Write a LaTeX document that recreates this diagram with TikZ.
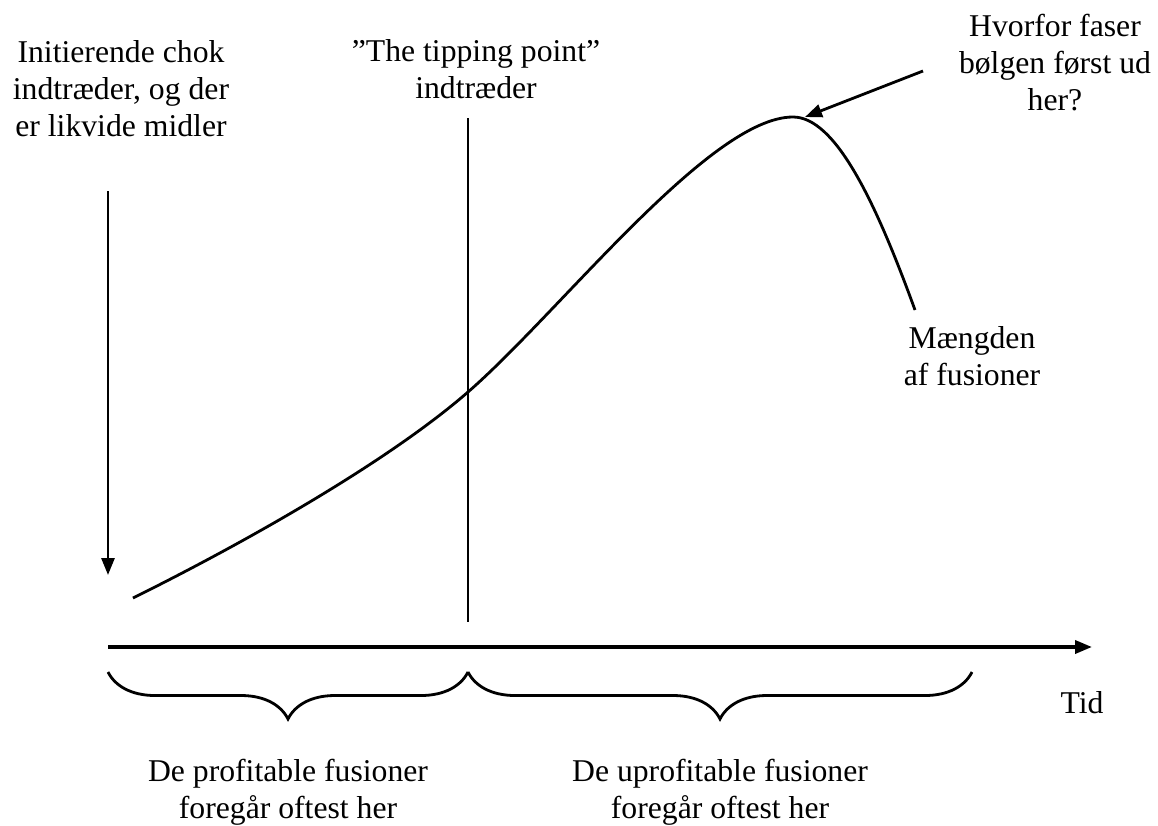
\documentclass[tikz,border=0pt]{standalone}
\usepackage{fontspec}
\setmainfont{Liberation Serif}
\usetikzlibrary{arrows.meta}
\usetikzlibrary{decorations.pathreplacing}

\begin{document}
\begin{tikzpicture}[x=1pt, y=-1pt, line width=2.8pt,
    lbl/.style={align=center, inner sep=0pt, anchor=base, font=\fontsize{31.7}{37}\selectfont},
    tip/.style={-{Triangle[length=17pt, width=13pt]}},
    clamp/.style={decorate, decoration={brace, mirror, amplitude=47pt}}]
    \useasboundingbox (0, 0) rectangle (1158, 825);
    % labels (anchor on last baseline)
    \node [lbl] (0) at (121, 136) {Initierende chok\\indtræder, og der\\er likvide midler};
    \node [lbl] (1) at (476, 98) {”The tipping point”\\indtræder};
    \node [lbl] (2) at (1055, 110) {Hvorfor faser\\bølgen først ud\\her?};
    \node [lbl] (3) at (972, 385) {Mængden\\af fusioner};
    \node [lbl] (4) at (1082, 713) {Tid};
    \node [lbl] (5) at (288, 818) {De profitable fusioner\\foregår oftest her};
    \node [lbl] (6) at (720, 818) {De uprofitable fusioner\\foregår oftest her};
    % initial shock
    \coordinate (7) at (108, 191);
    \coordinate (8) at (108, 575);
    \draw [tip] (7) to (8);
    % tipping point
    \coordinate (9) at (468, 118);
    \coordinate (10) at (468, 622);
    \draw (9) to (10);
    % time axis
    \coordinate (11) at (108, 647);
    \coordinate (12) at (1092, 647);
    \draw [tip, line width=3.6pt] (11) to (12);
    % number of mergers
    \coordinate (18) at (133, 598); % start
    \coordinate (19) at (468, 392); % crosses tipping line
    \coordinate (20) at (793, 117); % peak
    \coordinate (21) at (915, 310); % end
    \draw (18) .. controls (250, 540) and (390, 460) .. (19)
               .. controls (560, 312) and (710, 117) .. (20)
               .. controls (835, 117) and (875, 200) .. (21);
    % question
    \coordinate (13) at (923, 71);
    \coordinate (14) at (805, 117);
    \draw [tip] (13) to (14);
    % periods
    \coordinate (15) at (108, 672);
    \coordinate (16) at (468, 672);
    \coordinate (17) at (972, 672);
    \draw [clamp] (15) to (16);
    \draw [clamp] (16) to (17);
\end{tikzpicture}
\end{document}
